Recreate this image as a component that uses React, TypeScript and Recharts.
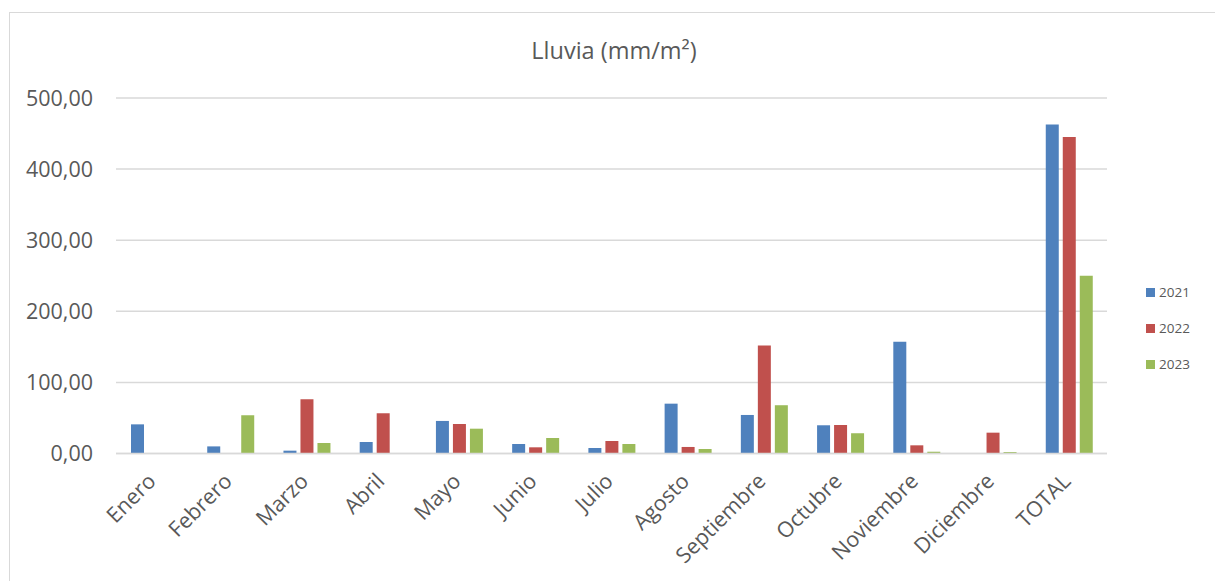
import React from 'react';
import { BarChart, Bar, XAxis, YAxis, CartesianGrid, Legend } from 'recharts';

const months = ['Enero', 'Febrero', 'Marzo', 'Abril', 'Mayo', 'Junio', 'Julio', 'Agosto', 'Septiembre', 'Octubre', 'Noviembre', 'Diciembre', 'TOTAL'];
const v2021 = [41, 10, 4, 16.2, 45.8, 13.4, 7.7, 70.1, 54.2, 39.7, 157, 0, 462.7];
const v2022 = [0, 0, 76.3, 56.6, 41.5, 8.7, 17.6, 9.2, 151.8, 40.1, 11.5, 29.3, 445.3];
const v2023 = [0, 53.8, 14.8, 0, 34.9, 21.8, 13.4, 6.3, 67.9, 28.5, 2.5, 2, 250];
const yTicks = [0, 100, 200, 300, 400, 500];
const seriesNames = ['2021', '2022', '2023'];
const seriesColors = ['#4F81BD', '#C0504D', '#9BBB59'];

const data = months.map((m, i) => ({ month: m, '2021': v2021[i], '2022': v2022[i], '2023': v2023[i] }));

const FONT = '"Open Sans", "Noto Sans", sans-serif';
const TXT = '#595959';

const fmt = (v: number) => v.toFixed(2).replace('.', ',');

const XTick = (props: any) => {
  const { x, y, payload } = props;
  const tx = x + 3;
  const ty = y + 29;
  return (
    <text x={tx} y={ty} textAnchor="end" fill={TXT} fontSize={21.5} fontFamily={FONT} transform={`rotate(-45, ${tx}, ${ty})`}>
      {payload.value}
    </text>
  );
};

const LegendContent = () => (
  <div style={{ fontFamily: FONT, fontSize: 13.5, color: TXT }}>
    {seriesNames.map((n, i) => (
      <div key={n} style={{ display: 'flex', alignItems: 'center', height: 36 }}>
        <span style={{ width: 9, height: 9, background: seriesColors[i], display: 'inline-block', marginRight: 4 }} />
        <span>{n}</span>
      </div>
    ))}
  </div>
);

export default function App() {
  return (
    <div style={{ position: 'absolute', left: 0, top: 0, width: 1215, height: 581, background: '#fff', overflow: 'hidden' }}>
      <div style={{ position: 'absolute', left: 9, top: 12, width: 1300, height: 700, border: '1px solid #d9d9d9', boxSizing: 'border-box' }} />
      <div style={{ position: 'absolute', left: 0, top: 0 }}>
        <BarChart width={1215} height={581} data={data} margin={{ top: 98, right: 38, bottom: 0, left: 0 }} barSize={13} barGap={4}>
          <text x={614} y={59} textAnchor="middle" fill={TXT} fontSize={23.5} fontFamily={FONT}>Lluvia (mm/m²)</text>
          <CartesianGrid vertical={false} stroke="#d9d9d9" strokeWidth={1.5} />
          <XAxis dataKey="month" interval={0} tickLine={false} axisLine={{ stroke: '#d9d9d9', strokeWidth: 1.5 }} tick={<XTick />} tickSize={0} tickMargin={0} height={127.5} />
          <YAxis domain={[0, 500]} ticks={yTicks} width={116} tickLine={false} axisLine={false} tickFormatter={fmt} tickMargin={17} tick={{ fill: TXT, fontSize: 21.5, fontFamily: FONT }} />
          <Legend layout="vertical" align="right" verticalAlign="middle" content={<LegendContent />} wrapperStyle={{ position: 'absolute', left: 1146, top: 274, width: 70 }} />
          {seriesNames.map((n, i) => (
            <Bar key={n} dataKey={n} fill={seriesColors[i]} isAnimationActive={false} />
          ))}
        </BarChart>
      </div>
    </div>
  );
}
